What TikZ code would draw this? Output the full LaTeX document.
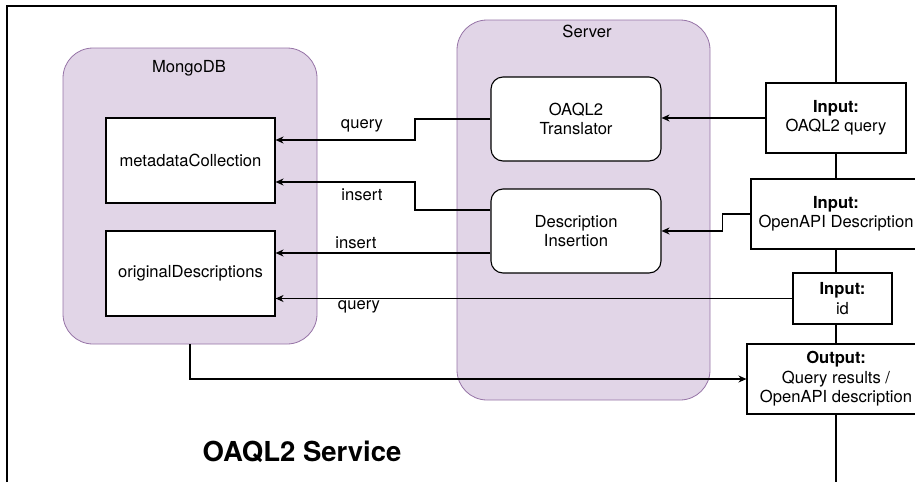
\documentclass[tikz,border=0pt]{standalone}
\usepackage{fontspec}
\setmainfont{TeX Gyre Heros}
\usetikzlibrary{calc,arrows.meta}
\definecolor{lilac}{HTML}{E1D5E7}
\definecolor{lilacline}{HTML}{9673A6}
\tikzset{
	container/.style={draw=lilacline,fill=lilac,rounded corners=30pt,line width=0.8pt},
	coll/.style={draw,fill=white,minimum width=169pt,minimum height=85pt},
	proc/.style={draw,fill=white,rounded corners=12pt,minimum width=170pt,minimum height=84pt,align=center},
	io/.style={draw,fill=white,align=center,inner sep=2pt,minimum height=70pt},
}
\begin{document}
\begin{tikzpicture}[x=1pt,y=-1pt,>={Stealth[length=8pt,width=7pt,inset=2.5pt]},line width=1.1pt,font=\fontsize{16.6}{19.5}\selectfont]
			\useasboundingbox (0,0) rectangle (915,482);
			\draw (7,482) -- (7,6) -- (836,6) -- (836,482);
			% containers
			\node[container,minimum width=254pt,minimum height=296pt] (mongo) at (190,196) {};
			\node (mongolbl) at (189,68) {MongoDB};
			\node[container,minimum width=253pt,minimum height=380pt] (server) at (583.5,210) {};
			\node (serverlbl) at (587,31) {Server};
			\foreach \nm/\yy/\txt in {meta/160.5/metadataCollection,orig/273.5/originalDescriptions}{
				\node[coll] (\nm) at (190.5,\yy) {\txt};}
			\node[proc] (trans) at (576,119) {OAQL2\\Translator};
			\node[proc] (ins) at (576,231) {Description\\Insertion};
			% inputs / output
			\node[io,minimum width=140pt] (inq) at (836,118) {\textbf{Input:}\\OAQL2 query};
			\node[io,minimum width=170pt] (inapi) at (836,214) {\textbf{Input:}\\OpenAPI Description};
			\node[io,minimum width=99pt,minimum height=51pt] (inid) at (842.5,298.5) {\textbf{Input:}\\id};
			\node[io,minimum width=178pt] (out) at (836,379) {\textbf{Output:}\\Query results /\\OpenAPI description};
			% connectors
			\draw[->] (trans.west) -- (415,119) -- (415,140) -- (meta.east |- 0,140);
			\draw[->] (ins.west |- 0,210) -- (415,210) -- (415,182) -- (meta.east |- 0,182);
			\draw[->] (ins.west |- 0,253) -- (orig.east |- 0,253);
			\draw[->] (inid.west) -- (orig.east |- inid.west);
			\draw[->] (inq.west) -- (trans.east |- inq.west);
			\draw[->] (inapi.west) -- ++(-28,0) |- (ins.east);
			\draw[->] (mongo.south) |- (out.west);
			\node (lq1) at (362,126) {query};
			\node (li1) at (362,195) {insert};
			\node (li2) at (356,243) {insert};
			\node (lq2) at (359,307) {query};
			\node[font=\fontsize{27.5}{32}\selectfont\bfseries] (title) at (302,452) {OAQL2 Service};
		\end{tikzpicture}
\end{document}
